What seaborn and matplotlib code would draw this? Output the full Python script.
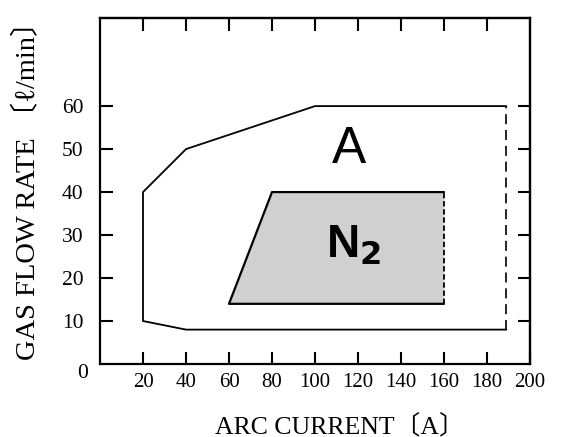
import matplotlib
matplotlib.use("Agg")
import matplotlib.pyplot as plt
import seaborn as sns
import pandas as pd

# ---- data ----
outer_current = [189, 100, 40, 20, 20, 40, 189]
outer_flow = [60, 60, 50, 40, 10, 8, 8]
outer_dash_current = [189, 189]
outer_dash_flow = [8, 60]

n2_current = [160, 80, 60, 160]
n2_flow = [40, 40, 14, 14]
n2_dash_current = [160, 160]
n2_dash_flow = [14, 40]

x_ticks = [20, 40, 60, 80, 100, 120, 140, 160, 180, 200]
y_ticks = [10, 20, 30, 40, 50, 60]
top_ticks = [20, 40, 60, 80, 100, 120, 140, 160, 180]

sns.set_theme(style="ticks")
serif = ["Liberation Serif", "DejaVu Serif", "Noto Sans CJK JP"]
narrow = ["Liberation Sans Narrow", "Liberation Sans", "DejaVu Sans"]
plt.rcParams["font.family"] = serif
plt.rcParams["text.color"] = "black"
plt.rcParams["xtick.color"] = "black"
plt.rcParams["ytick.color"] = "black"

fig = plt.figure(figsize=(5.62, 4.37), dpi=100)
ax = fig.add_axes([100 / 562, 1 - 364 / 437, 430 / 562, (364 - 18) / 437])

# N2 filled region
ax.fill(n2_current, n2_flow, color="#d0d0d0", zorder=1, linewidth=0)
n2_df = pd.DataFrame({"c": n2_current, "f": n2_flow})
sns.lineplot(data=n2_df, x="c", y="f", sort=False, estimator=None, ax=ax,
             color="black", linewidth=1.6, zorder=3)
sns.lineplot(x=n2_dash_current, y=n2_dash_flow, sort=False, estimator=None, ax=ax,
             color="black", linewidth=1.3, linestyle=(0, (3, 1.5)), zorder=3)

# A region outline
outer_df = pd.DataFrame({"c": outer_current, "f": outer_flow})
sns.lineplot(data=outer_df, x="c", y="f", sort=False, estimator=None, ax=ax,
             color="black", linewidth=1.3, zorder=3)
sns.lineplot(x=outer_dash_current, y=outer_dash_flow, sort=False, estimator=None, ax=ax,
             color="black", linewidth=1.2, linestyle=(0, (6, 3.5)), zorder=3)

ax.set_xlim(0, 200)
ax.set_ylim(0, 80.5)

ax.set_xticks(x_ticks)
ax.set_xticklabels([str(v) for v in x_ticks], fontsize=15)
ax.set_yticks(y_ticks)
ax.set_yticklabels([str(v) for v in y_ticks], fontsize=15.5)
ax.tick_params(axis="x", direction="in", length=9, width=1.5, pad=6.5, colors="black")
ax.tick_params(axis="y", direction="in", length=9, width=1.5, pad=12, colors="black")
ax.text(-5.5, -2.2, "0", ha="right", va="center", fontsize=15.5, clip_on=False)

# top ticks and right ticks
axt = ax.secondary_xaxis("top")
axt.set_xticks(top_ticks)
axt.set_xticklabels([])
axt.tick_params(direction="in", length=9, width=1.5)
axr = ax.secondary_yaxis("right")
axr.set_yticks(y_ticks)
axr.set_yticklabels([])
axr.tick_params(direction="in", length=9, width=1.5)

for s in ax.spines.values():
    s.set_linewidth(1.6)
    s.set_color("black")
    s.set_visible(True)
for s in list(axt.spines.values()) + list(axr.spines.values()):
    s.set_linewidth(1.6)

ax.set_xlabel("")
ax.set_ylabel("")

ax.text(116, 50, "A", ha="center", va="center", fontsize=37, family=narrow)
ax.text(118, 27.5, "N$_{\\mathbf{2}}$", ha="center", va="center", fontsize=33,
        fontweight="bold", family=narrow)

fig.text(28 / 562, 1 - 184 / 437, "GAS FLOW RATE 〔ℓ/min〕", rotation=90,
         ha="center", va="center", fontsize=20.5, family=serif)
fig.text(340 / 562, 1 - 426 / 437, "ARC CURRENT〔A〕", ha="center", va="center",
         fontsize=18.5, family=serif)

fig.savefig("out.png", dpi=100)
